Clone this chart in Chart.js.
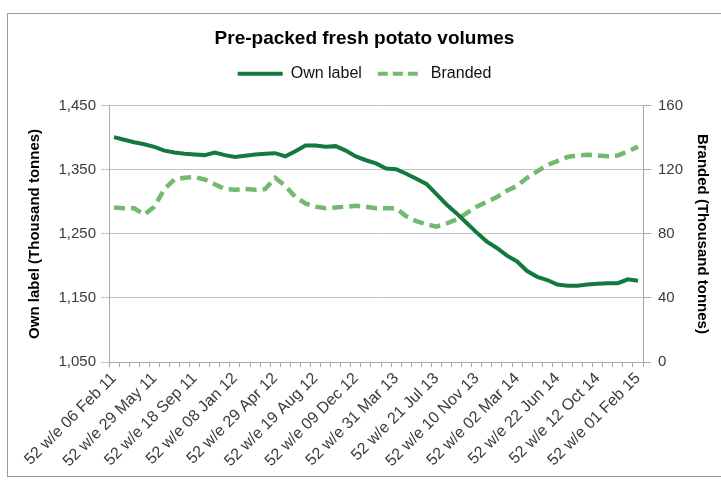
<!DOCTYPE html>
<html>
<head>
<meta charset="utf-8">
<script src="https://cdn.jsdelivr.net/npm/chart.js@4"></script>
<style>
    body { margin: 0; background: #fff; }
    #wrap { width: 721px; height: 480px; }
</style>
</head>
<body>
<div id="wrap"><canvas id="myGraph" width="721" height="480"></canvas></div>
<script>
"use strict";

// 52 w/e periods, every 4 weeks
let periods = [
    "06 Feb 11", "06 Mar 11", "03 Apr 11", "01 May 11", "29 May 11", "26 Jun 11", "24 Jul 11", "21 Aug 11",
    "18 Sep 11", "16 Oct 11", "13 Nov 11", "11 Dec 11", "08 Jan 12", "05 Feb 12", "04 Mar 12", "01 Apr 12",
    "29 Apr 12", "27 May 12", "24 Jun 12", "22 Jul 12", "19 Aug 12", "16 Sep 12", "14 Oct 12", "11 Nov 12",
    "09 Dec 12", "06 Jan 13", "03 Feb 13", "03 Mar 13", "31 Mar 13", "28 Apr 13", "26 May 13", "23 Jun 13",
    "21 Jul 13", "18 Aug 13", "15 Sep 13", "13 Oct 13", "10 Nov 13", "08 Dec 13", "05 Jan 14", "02 Feb 14",
    "02 Mar 14", "30 Mar 14", "27 Apr 14", "25 May 14", "22 Jun 14", "20 Jul 14", "17 Aug 14", "14 Sep 14",
    "12 Oct 14", "09 Nov 14", "07 Dec 14", "04 Jan 15", "01 Feb 15"
];
let categories = periods.map(p => "52 w/e " + p);

// thousand tonnes
let ownLabel = [
    1401, 1397, 1393, 1390, 1386, 1380, 1377, 1375, 1374, 1373, 1377, 1373, 1370, 1372, 1374, 1375,
    1376, 1371, 1379, 1388, 1388, 1386, 1387, 1380, 1371, 1365, 1360, 1352, 1351, 1344, 1336, 1328,
    1312, 1296, 1282, 1267, 1252, 1238, 1228, 1216, 1207, 1192, 1183, 1178, 1171, 1169, 1169, 1171,
    1172, 1173, 1173, 1179, 1177
];
let branded = [
    96.5, 96, 96, 92, 97, 108, 114, 115, 115.5, 114, 111, 108, 107.5, 108, 107.5, 108,
    115, 110, 103, 99, 97, 96, 96.5, 97, 97.5, 97, 96, 96, 96, 91, 88, 86,
    84.5, 86.5, 89, 93, 97, 100, 103, 107, 110, 115, 119, 123, 125.5, 128, 129, 129.5,
    129, 128.5, 129, 131.5, 134.5
];

let leftTicks = [1050, 1150, 1250, 1350, 1450];
let rightTicks = [0, 40, 80, 120, 160];

const ownColor = "#13793d";
const brandColor = "#72ba72";
const gridColor = "#c4c4c4";
const textColor = "#3a3a3a";

Chart.defaults.font.family = "'Liberation Sans', Arial, sans-serif";
Chart.defaults.color = textColor;

// grey frame round the chart like the excel export
const frame = {
    id: "frame",
    beforeDraw(chart) {
        const ctx = chart.ctx;
        ctx.save();
        ctx.fillStyle = "#fff";
        ctx.fillRect(0, 0, chart.width, chart.height);
        ctx.strokeStyle = "#9a9a9a";
        ctx.lineWidth = 1;
        ctx.strokeRect(7.5, 13.5, 720, 463);
        ctx.restore();
    },
};

// extra room under the legend
const legendGap = {
    id: "legendGap",
    beforeInit(chart) {
        const fitLegend = chart.legend.fit;
        chart.legend.fit = function () {
            fitLegend.bind(chart.legend)();
            this.height += 14;
        };
    },
};

const data = {
    labels: categories,
    datasets: [
        {
            label: "Own label",
            data: ownLabel,
            yAxisID: "y",
            borderColor: ownColor,
            backgroundColor: ownColor,
            borderWidth: 4,
            pointRadius: 0,
            pointStyle: "line",
            tension: 0,
        },
        {
            label: "Branded",
            data: branded,
            yAxisID: "y1",
            borderColor: brandColor,
            backgroundColor: brandColor,
            borderWidth: 4.5,
            borderDash: [11, 6],
            pointRadius: 0,
            pointStyle: "line",
            tension: 0,
        },
    ],
};

const config = {
    type: "line",
    data: data,
    plugins: [frame, legendGap],
    options: {
        responsive: false,
        animation: false,
        layout: { padding: { left: 8, right: 0, top: 13, bottom: 0 } },
        plugins: {
            title: {
                display: true,
                text: "Pre-packed fresh potato volumes",
                color: "#000",
                font: { size: 19, weight: "bold" },
                padding: { top: 14, bottom: 0 },
            },
            legend: {
                labels: {
                    usePointStyle: true,
                    pointStyleWidth: 45,
                    boxHeight: 16,
                    color: "#111",
                    font: { size: 16 },
                    padding: 16,
                    generateLabels(chart) {
                        const items = Chart.defaults.plugins.legend.labels.generateLabels(chart);
                        items.forEach((item, i) => {
                            const ds = chart.data.datasets[i];
                            item.lineDash = ds.borderDash ? [10, 5] : [];
                            item.lineWidth = 4;
                        });
                        return items;
                    },
                },
            },
            tooltip: { enabled: false },
        },
        scales: {
            x: {
                offset: true,
                grid: {
                    offset: true,
                    drawOnChartArea: false,
                    drawTicks: true,
                    tickLength: 5,
                    color: "#a8a8a8",
                },
                border: { color: "#a8a8a8" },
                ticks: {
                    autoSkip: false,
                    minRotation: 45,
                    maxRotation: 45,
                    padding: 2,
                    font: { size: 16 },
                    callback: function (value, index) {
                        return index % 4 === 0 ? categories[index] : "";
                    },
                },
                afterFit(scale) {
                    scale.height = 118;
                },
            },
            y: {
                position: "left",
                min: 1050,
                max: 1450,
                afterBuildTicks(scale) {
                    scale.ticks = leftTicks.map(v => ({ value: v }));
                },
                ticks: {
                    padding: 5,
                    font: { size: 15 },
                    callback: v => v.toLocaleString("en-GB"),
                },
                grid: { color: gridColor, tickLength: 8 },
                border: { color: "#a8a8a8" },
                title: {
                    display: true,
                    text: "Own label (Thousand tonnes)",
                    color: "#000",
                    font: { size: 15, weight: "bold" },
                    padding: { top: 18, bottom: 0 },
                },
                afterFit(scale) {
                    scale.width = 101;
                },
            },
            y1: {
                position: "right",
                min: 0,
                max: 160,
                afterBuildTicks(scale) {
                    scale.ticks = rightTicks.map(v => ({ value: v }));
                },
                ticks: {
                    padding: 7,
                    font: { size: 15 },
                },
                grid: { drawOnChartArea: false, color: "#a8a8a8", tickLength: 8 },
                border: { color: "#a8a8a8" },
                title: {
                    display: true,
                    text: "Branded (Thousand tonnes)",
                    color: "#000",
                    font: { size: 15, weight: "bold" },
                    padding: { top: 10, bottom: 0 },
                },
                afterFit(scale) {
                    scale.width = 78;
                },
            },
        },
    },
};

const canvasChart = document.getElementById("myGraph");
new Chart(canvasChart, config);
</script>
</body>
</html>
